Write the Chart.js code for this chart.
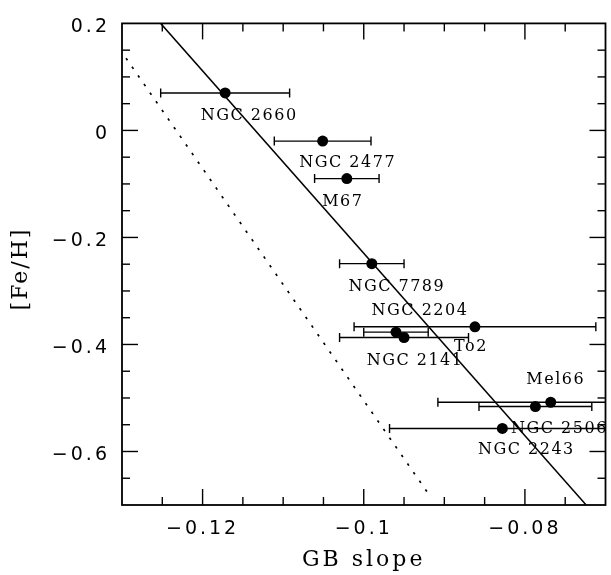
<!DOCTYPE html>
<html>
<head>
<meta charset="utf-8">
<script src="https://cdn.jsdelivr.net/npm/chart.js@4.4.1/dist/chart.umd.min.js"></script>
<style>
  body { margin: 0; background: #fff; }
  #wrap { width: 611px; height: 575px; }
</style>
</head>
<body>
<div id="wrap"><canvas id="chart" width="611" height="575"></canvas></div>
<script>
const clusterNames = ['NGC 2660', 'NGC 2477', 'M67', 'NGC 7789', 'NGC 2204', 'NGC 2141', 'To2', 'Mel66', 'NGC 2506', 'NGC 2243'];
const gbSlope = [-0.1172, -0.1051, -0.1021, -0.0990, -0.0960, -0.0950, -0.0862, -0.0768, -0.0787, -0.0828];
const gbSlopeErr = [0.008, 0.006, 0.004, 0.004, 0.004, 0.008, 0.015, 0.014, 0.007, 0.014];
const feH = [0.070, -0.020, -0.090, -0.249, -0.377, -0.387, -0.367, -0.508, -0.516, -0.557];

// solid fit and dotted relation, end points
const fitLineX = [-0.1252, -0.0724];
const fitLineY = [0.2, -0.7];
const dotLineX = [-0.1295, -0.0917];
const dotLineY = [0.135, -0.685];

const xTickValues = [-0.12, -0.1, -0.08];
const xTickText = ['\u22120.12', '\u22120.1', '\u22120.08'];
const yTickValues = [0.2, 0, -0.2, -0.4, -0.6];
const yTickText = ['0.2', '0', '\u22120.2', '\u22120.4', '\u22120.6'];
const yTitle = '[Fe/H]';

const xMinorStep = 0.005;
const yMinorStep = 0.05;

// where each name sits relative to its point (px)
const labelShift = [[23, 22], [24, 21], [-5, 22], [24, 22], [23, -22], [10, 22], [-5, 19], [4, -23], [23, 21], [23, 20]];

function seg(ctx, x1, y1, x2, y2) {
  ctx.beginPath();
  ctx.moveTo(x1, y1);
  ctx.lineTo(x2, y2);
  ctx.stroke();
}

const spacing = {
  id: 'spacing',
  beforeDraw(chart) {
    chart.ctx.letterSpacing = '3px';
  }
};

const errorBars = {
  id: 'errorBars',
  beforeDatasetsDraw(chart) {
    const { ctx, chartArea: a, scales: { x, y } } = chart;
    ctx.save();
    ctx.beginPath();
    ctx.rect(a.left, a.top, a.right - a.left, a.bottom - a.top);
    ctx.clip();
    ctx.strokeStyle = '#000';
    ctx.lineWidth = 1.4;
    gbSlope.forEach((v, i) => {
      const py = y.getPixelForValue(feH[i]);
      const x1 = x.getPixelForValue(v - gbSlopeErr[i]);
      const x2 = x.getPixelForValue(v + gbSlopeErr[i]);
      seg(ctx, x1, py, x2, py);
      seg(ctx, x1, py - 4.5, x1, py + 4.5);
      seg(ctx, x2, py - 4.5, x2, py + 4.5);
    });
    ctx.restore();
  }
};

const frame = {
  id: 'frame',
  afterDatasetsDraw(chart) {
    const { ctx, chartArea: a, scales: { x, y } } = chart;
    ctx.save();
    ctx.strokeStyle = '#000';
    ctx.lineWidth = 1.4;
    const isMajor = (list, v) => list.some(m => Math.abs(m - v) < 1e-9);
    const nx = Math.round((x.max - x.min) / xMinorStep);
    for (let i = 1; i < nx; i++) {
      const v = x.min + i * xMinorStep;
      const len = isMajor(xTickValues, v) ? 16 : 8;
      const p = x.getPixelForValue(v);
      seg(ctx, p, a.bottom, p, a.bottom - len);
      seg(ctx, p, a.top, p, a.top + len);
    }
    const ny = Math.round((y.max - y.min) / yMinorStep);
    for (let i = 1; i < ny; i++) {
      const v = y.min + i * yMinorStep;
      const len = isMajor(yTickValues, v) ? 16 : 8;
      const p = y.getPixelForValue(v);
      seg(ctx, a.left, p, a.left + len, p);
      seg(ctx, a.right, p, a.right - len, p);
    }
    ctx.lineWidth = 1.8;
    ctx.strokeRect(a.left, a.top, a.right - a.left, a.bottom - a.top);

    ctx.fillStyle = '#000';
    ctx.font = '16px "DejaVu Serif"';
    ctx.letterSpacing = '1.5px';
    ctx.textAlign = 'center';
    ctx.textBaseline = 'middle';
    clusterNames.forEach((name, i) => {
      const px = x.getPixelForValue(gbSlope[i]);
      const py = y.getPixelForValue(feH[i]);
      ctx.fillText(name, px + labelShift[i][0] + 1, py + labelShift[i][1] + 1);
    });

    // y title, slightly below the axis middle as in the original
    ctx.font = '22px "DejaVu Serif"';
    ctx.letterSpacing = '2px';
    ctx.translate(21, 269);
    ctx.rotate(-Math.PI / 2);
    ctx.fillText(yTitle, 0, 0);
    ctx.restore();
  }
};

const tickFont = { family: '"DejaVu Sans"', size: 19 };
const titleFont = { family: '"DejaVu Serif"', size: 22 };

new Chart(document.getElementById('chart'), {
  type: 'scatter',
  data: {
    datasets: [
      {
        data: gbSlope.map((v, i) => ({ x: v, y: feH[i] })),
        pointRadius: 5.5,
        pointHoverRadius: 5.5,
        backgroundColor: '#000',
        borderColor: '#000',
        borderWidth: 0
      },
      {
        data: fitLineX.map((v, i) => ({ x: v, y: fitLineY[i] })),
        showLine: true,
        pointRadius: 0,
        borderColor: '#000',
        borderWidth: 1.5
      },
      {
        data: dotLineX.map((v, i) => ({ x: v, y: dotLineY[i] })),
        showLine: true,
        pointRadius: 0,
        borderColor: '#000',
        borderWidth: 1.7,
        borderDash: [2.5, 8]
      }
    ]
  },
  options: {
    responsive: false,
    animation: false,
    events: [],
    layout: { padding: { top: 15, right: 1.5, bottom: 0, left: 0 } },
    plugins: { legend: { display: false }, tooltip: { enabled: false } },
    scales: {
      x: {
        type: 'linear',
        position: 'bottom',
        min: -0.13,
        max: -0.07,
        grid: { display: false, drawTicks: false },
        border: { display: false },
        afterBuildTicks: (s) => { s.ticks = xTickValues.map(v => ({ value: v })); },
        afterFit: (s) => { s.height = 70; },
        ticks: {
          color: '#000',
          font: tickFont,
          padding: 13,
          maxRotation: 0,
          autoSkip: false,
          callback: (v, i) => xTickText[i]
        },
        title: { display: true, text: 'GB slope', color: '#000', font: titleFont, padding: { top: 0, bottom: 2 } }
      },
      y: {
        type: 'linear',
        position: 'left',
        min: -0.7,
        max: 0.2,
        grid: { display: false, drawTicks: false },
        border: { display: false },
        afterBuildTicks: (s) => { s.ticks = yTickValues.map(v => ({ value: v })); },
        afterFit: (s) => { s.width = 122; },
        ticks: {
          color: '#000',
          font: tickFont,
          padding: 12,
          labelOffset: 3.5,
          autoSkip: false,
          callback: (v, i) => yTickText[i]
        },
        title: { display: false }
      }
    }
  },
  plugins: [spacing, errorBars, frame]
});
</script>
</body>
</html>
